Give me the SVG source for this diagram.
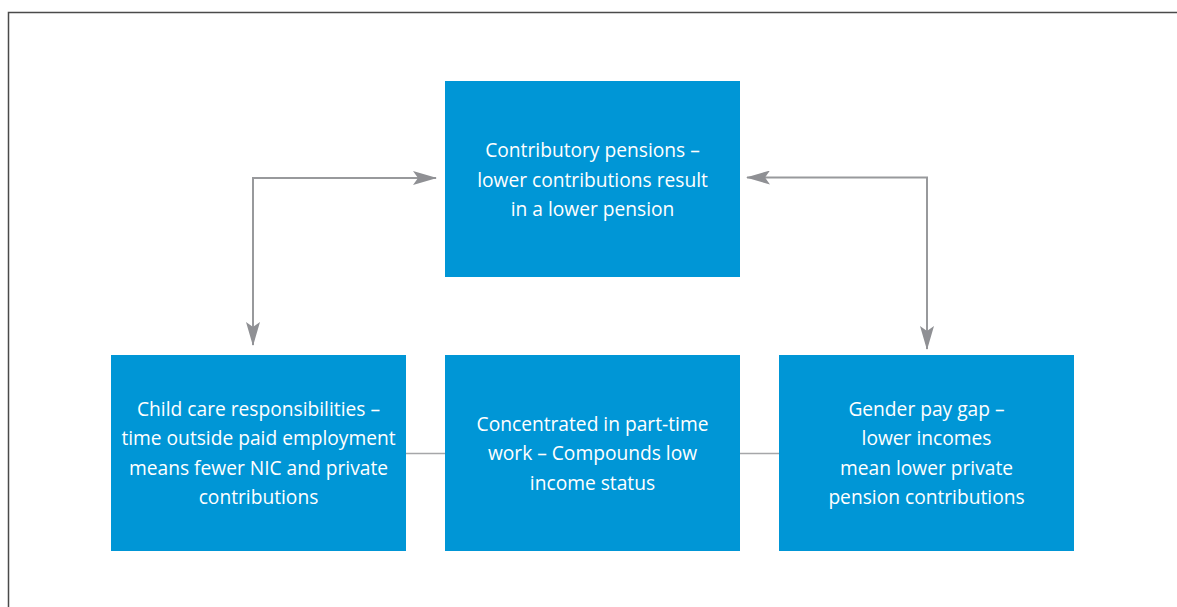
<svg xmlns="http://www.w3.org/2000/svg" width="1177" height="607" viewBox="0 0 1177 607">
  <style>
    .box { fill: #0096d6; }
    .label { fill: #ffffff; font-family: "Open Sans", "Liberation Sans", sans-serif; font-size: 19.2px; text-anchor: middle; }
    .arrow { fill: none; stroke: #98999c; stroke-width: 2; }
    .link { fill: none; stroke: #a6a7a9; stroke-width: 1.5; }
  </style>
  <defs>
    <marker id="head" viewBox="0 0 24 14" refX="23" refY="7" markerWidth="24" markerHeight="14" markerUnits="userSpaceOnUse" orient="auto-start-reverse">
      <path d="M0,0 L24,7 L0,14 L5,7 Z" fill="#8f9094"/>
    </marker>
  </defs>

  <!-- outer frame -->
  <path d="M8.5,607 V12.5 H1177" fill="none" stroke="#4a4a4a" stroke-width="1.5"/>

  <g id="connectors">
    <path class="arrow" d="M253,345 V178 H436" marker-start="url(#head)" marker-end="url(#head)"/>
    <path class="arrow" d="M747,177.5 H927 V349" marker-start="url(#head)" marker-end="url(#head)"/>
    <line class="link" x1="406" y1="453.5" x2="445" y2="453.5"/>
    <line class="link" x1="740" y1="453.5" x2="779" y2="453.5"/>
  </g>

  <g id="contributory-pensions">
    <rect class="box" x="445" y="81" width="295" height="196"/>
    <text class="label" x="592.5" y="157">Contributory pensions –</text>
    <text class="label" x="592.5" y="186.5">lower contributions result</text>
    <text class="label" x="592.5" y="216">in a lower pension</text>
  </g>

  <g id="child-care">
    <rect class="box" x="111" y="355" width="295" height="196"/>
    <text class="label" x="258.5" y="415.5">Child care responsibilities –</text>
    <text class="label" x="258.5" y="445">time outside paid employment</text>
    <text class="label" x="258.5" y="474.5">means fewer NIC and private</text>
    <text class="label" x="258.5" y="504">contributions</text>
  </g>

  <g id="part-time-work">
    <rect class="box" x="445" y="355" width="295" height="196"/>
    <text class="label" x="592.5" y="430.5">Concentrated in part-time</text>
    <text class="label" x="592.5" y="460">work – Compounds low</text>
    <text class="label" x="592.5" y="489.5">income status</text>
  </g>

  <g id="gender-pay-gap">
    <rect class="box" x="779" y="355" width="295" height="196"/>
    <text class="label" x="926.5" y="415.5">Gender pay gap –</text>
    <text class="label" x="926.5" y="445">lower incomes</text>
    <text class="label" x="926.5" y="474.5">mean lower private</text>
    <text class="label" x="926.5" y="504">pension contributions</text>
  </g>
</svg>
